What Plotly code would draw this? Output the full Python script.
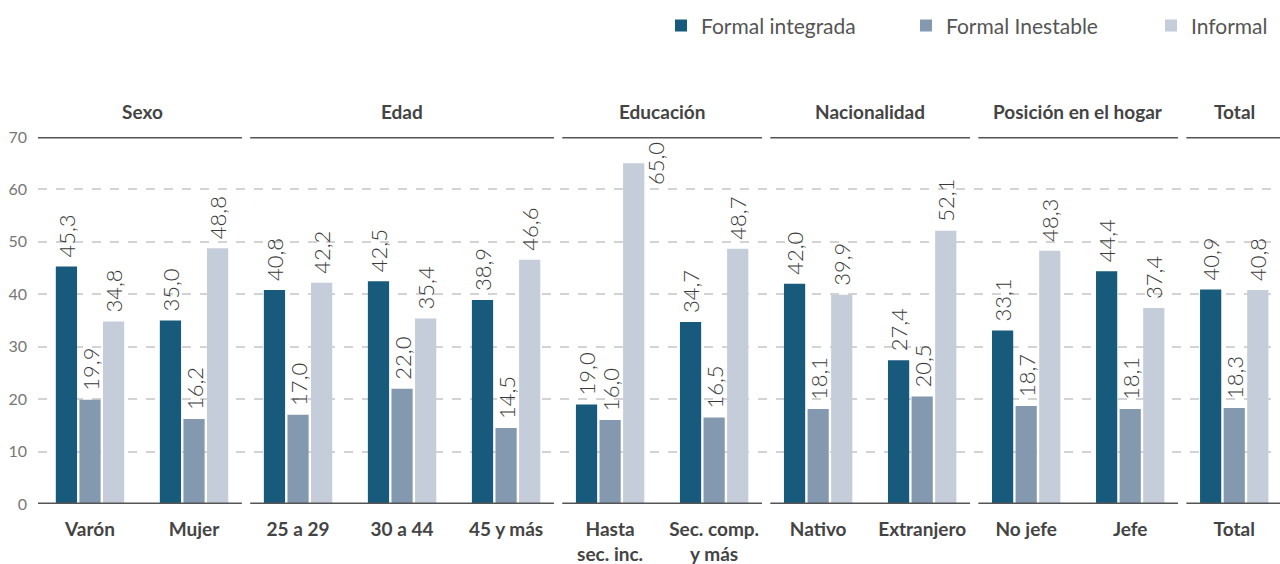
import plotly.graph_objects as go

categories = ["Varón", "Mujer", "25 a 29", "30 a 44", "45 y más", "Hasta<br>sec. inc.",
              "Sec. comp.<br>y más", "Nativo", "Extranjero", "No jefe", "Jefe", "Total"]
formal_integrada = [45.3, 35.0, 40.8, 42.5, 38.9, 19.0, 34.7, 42.0, 27.4, 33.1, 44.4, 40.9]
formal_inestable = [19.9, 16.2, 17.0, 22.0, 14.5, 16.0, 16.5, 18.1, 20.5, 18.7, 18.1, 18.3]
informal = [34.8, 48.8, 42.2, 35.4, 46.6, 65.0, 48.7, 39.9, 52.1, 48.3, 37.4, 40.8]
groups = [("Sexo", 0, 1), ("Edad", 2, 4), ("Educación", 5, 6), ("Nacionalidad", 7, 8),
          ("Posición en el hogar", 9, 10), ("Total", 11, 11)]
series = [("Formal integrada", formal_integrada, "#175a7c"),
          ("Formal Inestable", formal_inestable, "#8499b0"),
          ("Informal", informal, "#c6cdda")]

FONT = "Lato"
YMAX = 70
BARGAP, GROUPGAP = 0.32, 0.1
slot = (1 - BARGAP) / len(series)
barw = slot * (1 - GROUPGAP)
label_font = dict(family=FONT, size=22, color="#3a3a3a", weight=300)

fig = go.Figure()
xs = list(range(len(categories)))
annotations = []
for k, (name, vals, col) in enumerate(series):
    texts = []
    for i, v in enumerate(vals):
        lab = f"{v:.1f}".replace(".", ",")
        if v > 60:  # no room above the bar: label goes beside it
            texts.append("")
            annotations.append(dict(x=i + (k - 1) * slot + barw, y=v, xref="x", yref="y",
                                    text=lab, textangle=-90, showarrow=False,
                                    xanchor="center", yanchor="middle", font=label_font))
        else:
            texts.append("\u00a0" + lab)
    fig.add_trace(go.Bar(
        x=xs, y=vals, name=name, marker=dict(color=col, line=dict(width=0)),
        text=texts, textposition="outside", textangle=-90, textfont=label_font,
        constraintext="none", cliponaxis=False,
    ))

shapes = []
inset = 0.04
for label, a, b in groups:
    x0 = a - 0.5 + (inset if a > 0 else 0)
    x1 = b + 0.5 - inset
    for yv in (0, YMAX):
        shapes.append(dict(type="line", xref="x", yref="y", x0=x0, x1=x1, y0=yv, y1=yv,
                           line=dict(color="#555", width=3), layer="above"))
    annotations.append(dict(x=(a + b) / 2, y=1, xref="x", yref="paper", text=label,
                            showarrow=False, yanchor="middle", yshift=26,
                            font=dict(family=FONT, size=19, color="#444", weight="bold")))

fig.update_layout(
    width=1280, height=564,
    margin=dict(l=38, r=0, t=137, b=60),
    plot_bgcolor="white", paper_bgcolor="white",
    barmode="group", bargap=BARGAP, bargroupgap=GROUPGAP,
    separators=",.",
    shapes=shapes, annotations=annotations,
    legend=dict(orientation="h", xref="container", yref="container",
                x=0.5164, xanchor="left", y=0.954, yanchor="middle",
                font=dict(family=FONT, size=21, color="#555"),
                entrywidth=200, entrywidthmode="pixels",
                traceorder="normal"),
    xaxis=dict(tickmode="array", tickvals=xs, ticktext=categories, range=[-0.5, 11.44],
               showgrid=False, zeroline=False, showline=False, ticks="", automargin=False,
               ticklabelstandoff=12,
               tickfont=dict(family=FONT, size=19, color="#444", weight="bold")),
    yaxis=dict(range=[0, YMAX], tickvals=list(range(0, YMAX + 1, 10)), showgrid=True,
               gridcolor="#d3d3d3", griddash="dash", gridwidth=1.5, zeroline=False,
               showline=False, ticks="", ticklabelstandoff=10, automargin=False,
               tickfont=dict(family=FONT, size=16, color="#777")),
)
fig.write_html("out.html", config={"displayModeBar": False},
               post_script="document.body.style.margin='0px';")
